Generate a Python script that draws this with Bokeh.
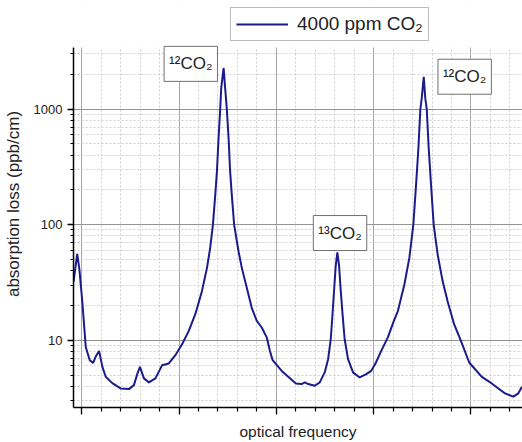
import numpy as np
from bokeh.plotting import figure
from bokeh.models import (FixedTicker, NumeralTickFormatter, CustomJSTickFormatter,
                          Label, Legend, LegendItem, Range1d, BoxAnnotation)
from bokeh.embed import file_html
from bokeh.resources import INLINE

# Absorption loss spectrum of 4000 ppm CO2 (arbitrary frequency units)
freq = [-0.085, -0.047, -0.024, 0.007, 0.041, 0.082, 0.117, 0.145, 0.178, 0.212,
        0.246, 0.314, 0.399, 0.485, 0.536, 0.570, 0.598, 0.639, 0.690, 0.757,
        0.826, 0.895, 0.962, 1.031, 1.099, 1.167, 1.235, 1.287, 1.320, 1.348,
        1.372, 1.389, 1.406, 1.423, 1.433, 1.458, 1.474, 1.491, 1.509, 1.525,
        1.542, 1.566, 1.611, 1.645, 1.696, 1.747, 1.799, 1.850, 1.901, 1.934,
        1.962, 2.064, 2.201, 2.259, 2.293, 2.328, 2.395, 2.446, 2.497, 2.532,
        2.559, 2.576, 2.594, 2.610, 2.627, 2.645, 2.661, 2.682, 2.702, 2.737,
        2.788, 2.856, 2.924, 2.975, 3.019, 3.078, 3.146, 3.208, 3.249, 3.316,
        3.367, 3.408, 3.436, 3.460, 3.480, 3.494, 3.515, 3.531, 3.546, 3.566,
        3.590, 3.617, 3.658, 3.709, 3.760, 3.828, 3.897, 3.982, 4.112, 4.214,
        4.282, 4.350, 4.436, 4.487, 4.524]
loss = [31.8, 55.9, 40.9, 20.8, 8.75, 6.72, 6.37, 7.28, 8.09, 5.89,
        4.83, 4.26, 3.83, 3.78, 4.09, 5.09, 5.89, 4.68, 4.32, 4.68,
        6.09, 6.30, 7.43, 9.24, 12.0, 16.8, 26.6, 42.3, 63.0, 100,
        181, 288, 559, 1000, 1508, 2270, 1508, 1000, 559, 288,
        181, 100, 58.9, 42.3, 28.5, 19.1, 14.7, 12.9, 10.6, 8.09,
        6.72, 5.33, 4.23, 4.18, 4.32, 4.18, 4.04, 4.32, 5.27, 6.86,
        10.2, 16.2, 27.5, 43.7, 57.7, 43.7, 27.5, 16.2, 10.2, 6.86,
        5.27, 4.77, 5.09, 5.44, 6.30, 8.09, 10.6, 14.7, 17.9, 30.4,
        51.6, 100, 221, 458, 994, 1237, 1898, 1237, 994, 458,
        221, 100, 55.1, 32.5, 21.8, 13.7, 9.86, 6.42, 4.83, 4.23,
        3.83, 3.47, 3.25, 3.47, 3.96]

series_label = "4000 ppm CO₂"
peak_names = ["¹²CO₂", "¹³CO₂", "¹²CO₂"]

x_major = [0, 1, 2, 3, 4]
x_minor = [round(0.2 * i, 1) for i in range(1, 23) if i % 5]
y_major = [10, 100, 1000]
y_minor = [m * 10 ** e for e in range(0, 4) for m in range(2, 10)
           if 2.6 < m * 10 ** e < 3500 and m * 10 ** e not in y_major]

FONT = "Liberation Sans"
LINE = "#1b1b8c"
TEXT = "#222222"
Y_LO, Y_HI = 2.62, 3420      # extent of the drawn axis
Y_TOP = 8703                 # headroom above the axis for the legend

p = figure(width=522, height=442, y_axis_type="log",
           x_range=Range1d(-0.085, 4.53), y_range=Range1d(Y_LO, Y_TOP),
           output_backend="svg", toolbar_location=None,
           min_border_left=71, min_border_right=0,
           min_border_top=0, min_border_bottom=33)
p.outline_line_color = None
p.background_fill_color = "white"
p.border_fill_color = "white"

r = p.line(freq, loss, line_color=LINE, line_width=2)

# axes
p.xaxis.ticker = FixedTicker(ticks=x_major, minor_ticks=x_minor)
p.yaxis.ticker = FixedTicker(ticks=y_major, minor_ticks=y_minor)
p.yaxis.formatter = NumeralTickFormatter(format="0")
p.xaxis.formatter = CustomJSTickFormatter(code="return ''")
p.yaxis.bounds = (Y_LO, Y_HI)
for ax in (p.xaxis[0], p.yaxis[0]):
    ax.axis_line_color = "black"
    ax.axis_line_width = 1.5
    ax.major_tick_line_color = "black"
    ax.minor_tick_line_color = "black"
    ax.major_tick_line_width = 1.3
    ax.minor_tick_line_width = 1.2
    ax.major_tick_in = 0
    ax.minor_tick_in = 0
    ax.major_label_text_font = FONT
    ax.major_label_text_color = TEXT
    ax.axis_label_text_font = FONT
    ax.axis_label_text_font_style = "normal"
    ax.axis_label_text_color = TEXT
p.xaxis.major_tick_out = 7
p.xaxis.minor_tick_out = 4
p.yaxis.major_tick_out = 6
p.yaxis.minor_tick_out = 3
p.xaxis.major_label_standoff = 0
p.xaxis.axis_label = "optical frequency"
p.xaxis.axis_label_text_font_size = "15.5px"
p.xaxis.axis_label_standoff = 8
p.yaxis.major_label_text_font_size = "13px"
p.yaxis.major_label_standoff = 5
p.yaxis.axis_label = "absorption loss (ppb/cm)"
p.yaxis.axis_label_text_font_size = "17px"
p.yaxis.axis_label_standoff = 8

# grid
p.xgrid.ticker = FixedTicker(ticks=x_major, minor_ticks=x_minor)
p.ygrid.ticker = FixedTicker(ticks=y_major, minor_ticks=y_minor)
for g in (p.xgrid[0], p.ygrid[0]):
    g.grid_line_color = "#a6a6a6"
    g.grid_line_width = 1
    g.minor_grid_line_color = "#cfcfcf"
    g.minor_grid_line_dash = "2 2"
    g.minor_grid_line_width = 1
p.ygrid.grid_line_color = "#939393"

# blank band above the axis top
p.add_layout(BoxAnnotation(bottom=Y_HI, fill_color="white", fill_alpha=1,
                           line_color=None))

# legend in the band above the data area
legend = Legend(items=[LegendItem(label=series_label, renderers=[r])],
                location=(157, 366), orientation="vertical",
                border_line_color="#7a7a7a", border_line_width=1,
                background_fill_color="white", background_fill_alpha=1,
                label_text_font=FONT, label_text_font_size="19px",
                label_text_color=TEXT,
                glyph_width=52, glyph_height=20, label_standoff=9,
                padding=5, margin=0, spacing=0)
p.add_layout(legend)

# boxed peak labels
for name, lx, ly in zip(peak_names, [0.846, 2.380, 3.661], [3490, 120, 2700]):
    p.add_layout(Label(x=lx, y=ly, text=name, anchor="top_left",
                       text_font=FONT, text_font_size="17px", text_color=TEXT,
                       padding=(5, 8), border_line_color="#707070",
                       border_line_width=1,
                       background_fill_color="white", background_fill_alpha=1))

open("out.html", "w").write(file_html(p, INLINE))
